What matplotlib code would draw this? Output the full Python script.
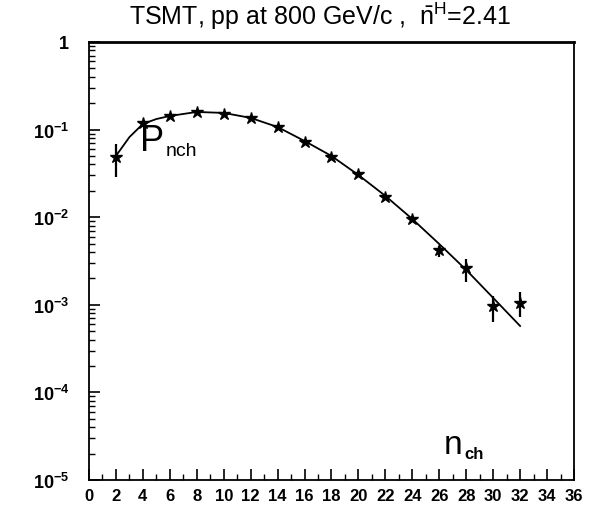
#!/usr/bin/env python3
"""Multiplicity distribution P(nch), TSMT pp at 800 GeV/c, log scale."""

import numpy as np
import matplotlib.pyplot as plt
from matplotlib.ticker import FixedLocator, FuncFormatter, LogLocator, NullFormatter

plt.rcParams["font.family"] = ["Liberation Sans", "DejaVu Sans"]
plt.rcParams["mathtext.fontset"] = "custom"
plt.rcParams["mathtext.rm"] = "Liberation Sans"
plt.rcParams["mathtext.bf"] = "Liberation Sans:bold"

# measured points
n_ch = [2, 4, 6, 8, 10, 12, 14, 16, 18, 20, 22, 24, 26, 28, 30, 32]
p_nch = [0.0486, 0.119, 0.143, 0.159, 0.151, 0.136, 0.107, 0.0722,
         0.0486, 0.0311, 0.0170, 0.00953, 0.00422, 0.00263, 0.000969, 0.00105]
err_lo = [0.020, 0, 0, 0, 0, 0, 0, 0, 0, 0, 0, 0.0008, 0.0007, 0.0008, 0.00033, 0.00032]
err_hi = [0.020, 0, 0, 0, 0, 0, 0, 0, 0, 0, 0, 0.0008, 0.0005, 0.0007, 0.0003, 0.00035]

# fitted curve
fit_n = [2, 3, 4, 5, 6, 8, 10, 12, 14, 16, 18, 20, 22, 24, 26, 28, 30, 32]
fit_p = [0.050, 0.082, 0.116, 0.132, 0.143, 0.159, 0.155, 0.136, 0.107, 0.0741,
         0.050, 0.0303, 0.0175, 0.00953, 0.00494, 0.00250, 0.00120, 0.000573]

X_TICKS = list(range(0, 37, 2))
Y_DECADES = [1e-5, 1e-4, 1e-3, 1e-2, 1e-1, 1]


def y_label(v, pos):
    if v >= 1:
        return r"$\mathbf{1}$"
    return r"$\mathbf{10^{%d}}$" % int(round(np.log10(v)))


def main():
    fig = plt.figure(figsize=(5.94, 5.10), dpi=100)
    ax = fig.add_axes([0.1498, 0.0569, 0.9663 - 0.1498, 0.9157 - 0.0569])

    ax.plot(fit_n, fit_p, color="black", linewidth=1.3)
    ax.errorbar(n_ch, p_nch, yerr=[err_lo, err_hi], fmt="*", color="black",
                markersize=9, elinewidth=1.6, capsize=0)

    ax.set_yscale("log")
    ax.set_xlim(0, 36)
    ax.set_ylim(1e-5, 1)

    ax.xaxis.set_major_locator(FixedLocator(X_TICKS))
    ax.xaxis.set_minor_locator(FixedLocator(range(0, 37)))
    ax.yaxis.set_major_locator(FixedLocator(Y_DECADES))
    ax.yaxis.set_major_formatter(FuncFormatter(y_label))
    ax.yaxis.set_minor_locator(LogLocator(base=10, subs=np.arange(2, 10)))
    ax.yaxis.set_minor_formatter(NullFormatter())

    ax.tick_params(axis="both", which="major", direction="in", length=8, width=1.2,
                   top=False, right=False)
    ax.tick_params(axis="both", which="minor", direction="in", length=4, width=1.0,
                   top=False, right=False)
    ax.tick_params(axis="x", labelsize=12, pad=6)
    ax.tick_params(axis="y", labelsize=13, pad=14)
    for lab in ax.get_xticklabels():
        lab.set_fontweight("bold")

    for side in ["left", "bottom", "right"]:
        ax.spines[side].set_linewidth(1.3)
    ax.spines["top"].set_linewidth(2.0)

    fig.text(0.538, 0.968, r"TSMT, pp at 800 GeV/c ,  $\bar{\mathrm{n}}^{\mathrm{H}}$=2.41",
             ha="center", va="center", fontsize=18)

    ax.text(0.105, 0.775, "P", transform=ax.transAxes, fontsize=26, va="center")
    ax.text(0.158, 0.752, "nch", transform=ax.transAxes, fontsize=14, va="center")
    ax.text(0.732, 0.082, "n", transform=ax.transAxes, fontsize=24, va="center")
    ax.text(0.775, 0.060, "ch", transform=ax.transAxes, fontsize=12,
            fontweight="bold", va="center")

    fig.savefig("out.png", dpi=100)
    plt.close(fig)


if __name__ == "__main__":
    main()
